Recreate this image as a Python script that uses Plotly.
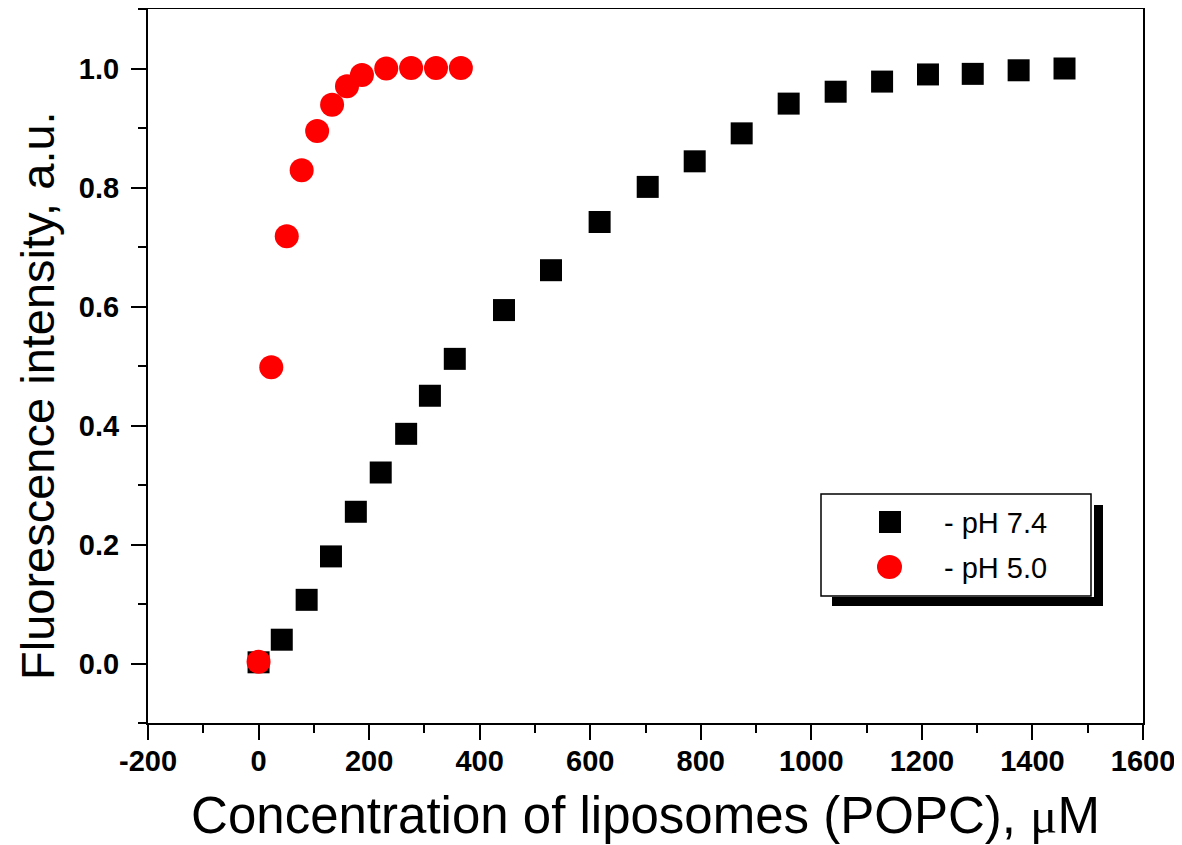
import plotly.graph_objects as go

# pH 7.4 (black squares)
conc_74 = [0, 42, 87, 131, 176, 221, 267, 310, 355, 444, 529, 617, 704, 789, 874, 959, 1044, 1128, 1211, 1292, 1375, 1458]
fluo_74 = [0.002, 0.040, 0.107, 0.180, 0.255, 0.321, 0.386, 0.450, 0.512, 0.594, 0.661, 0.742, 0.801, 0.844, 0.891, 0.941, 0.961, 0.978, 0.990, 0.991, 0.997, 1.000]

# pH 5.0 (red circles)
conc_50 = [0, 23, 51, 78, 106, 133, 160, 187, 231, 276, 321, 366]
fluo_50 = [0.003, 0.498, 0.718, 0.829, 0.895, 0.939, 0.970, 0.989, 1.000, 1.001, 1.001, 1.001]

legend_labels = ["- pH 7.4", "- pH 5.0"]
x_tickvals = [-200, 0, 200, 400, 600, 800, 1000, 1200, 1400, 1600]
x_ticktext = ["-200", "0", "200", "400", "600", "800", "1000", "1200", "1400", "1600"]
x_title = "Concentration of liposomes (POPC), <span style=\"font-family:'Liberation Serif', serif\">μ</span>M"
y_title = "Fluorescence intensity, a.u."

# page offset (body margin) compensation
OFF = 8
W, H = 1182, 845
L, R, T, B = 148 - OFF, 39 + OFF, 9 - OFF, 122 + OFF
pw, ph = W - L - R, H - T - B

def px(x):
    return (x - OFF - L) / pw

def py(y):
    return (H - B - (y - OFF)) / ph

FONT = "Liberation Sans, Arial, sans-serif"

fig = go.Figure()
fig.add_trace(go.Scatter(
    x=conc_74, y=fluo_74, mode="markers", name=legend_labels[0],
    marker=dict(symbol="square", size=22, color="black", line=dict(width=0)),
    showlegend=False,
))
fig.add_trace(go.Scatter(
    x=conc_50, y=fluo_50, mode="markers", name=legend_labels[1],
    marker=dict(symbol="circle", size=24, color="#ff0000", line=dict(width=0)),
    showlegend=False,
))

axis_common = dict(
    showgrid=False, zeroline=False, showline=True, linecolor="black", linewidth=2,
    mirror=True, ticks="outside", ticklen=15, tickwidth=2, tickcolor="black",
    tickfont=dict(family=FONT, size=29, color="black", weight="bold"),
)

fig.update_xaxes(
    range=[-200, 1600], tickvals=x_tickvals, ticktext=x_ticktext,
    minor=dict(dtick=100, tick0=0, ticks="outside", ticklen=8, tickwidth=2, tickcolor="black"),
    title=dict(text=x_title, font=dict(family=FONT, size=51, color="black"), standoff=22),
    ticklabelstandoff=-4,
    **axis_common,
)
fig.update_yaxes(
    range=[-0.1, 1.1], dtick=0.2, tick0=0, tickformat=".1f",
    minor=dict(dtick=0.1, ticks="outside", ticklen=8, tickwidth=2, tickcolor="black"),
    ticklabelstandoff=6,
    **axis_common,
)

shapes = []
# legend shadow
shapes.append(dict(type="rect", xref="paper", yref="paper",
                   x0=px(1094), x1=px(1103), y0=py(606), y1=py(505),
                   fillcolor="black", line=dict(width=0)))
shapes.append(dict(type="rect", xref="paper", yref="paper",
                   x0=px(832), x1=px(1103), y0=py(606), y1=py(597),
                   fillcolor="black", line=dict(width=0)))
# legend box
shapes.append(dict(type="rect", xref="paper", yref="paper",
                   x0=px(821), x1=px(1091), y0=py(596), y1=py(494),
                   fillcolor="white", line=dict(color="black", width=1.5)))
# legend symbols
shapes.append(dict(type="rect", xref="paper", yref="paper",
                   x0=px(879), x1=px(901), y0=py(533), y1=py(511),
                   fillcolor="black", line=dict(width=0)))
shapes.append(dict(type="circle", xref="paper", yref="paper",
                   x0=px(877), x1=px(902), y0=py(579), y1=py(555),
                   fillcolor="#ff0000", line=dict(width=0)))

annotations = [
    dict(text=legend_labels[0], xref="paper", yref="paper", x=px(942), y=py(523),
         xanchor="left", yanchor="middle", showarrow=False,
         font=dict(family=FONT, size=29, color="black")),
    dict(text=legend_labels[1], xref="paper", yref="paper", x=px(942), y=py(568),
         xanchor="left", yanchor="middle", showarrow=False,
         font=dict(family=FONT, size=29, color="black")),
    dict(text=y_title, xref="paper", yref="paper", x=px(37), y=py(396),
         xanchor="center", yanchor="middle", textangle=-90, showarrow=False,
         font=dict(family=FONT, size=47, color="black")),
]

fig.update_layout(
    width=W, height=H,
    margin=dict(l=L, r=R, t=T, b=B, autoexpand=False),
    paper_bgcolor="white", plot_bgcolor="white",
    shapes=shapes, annotations=annotations,
    showlegend=False,
)

fig.write_html("out.html")
